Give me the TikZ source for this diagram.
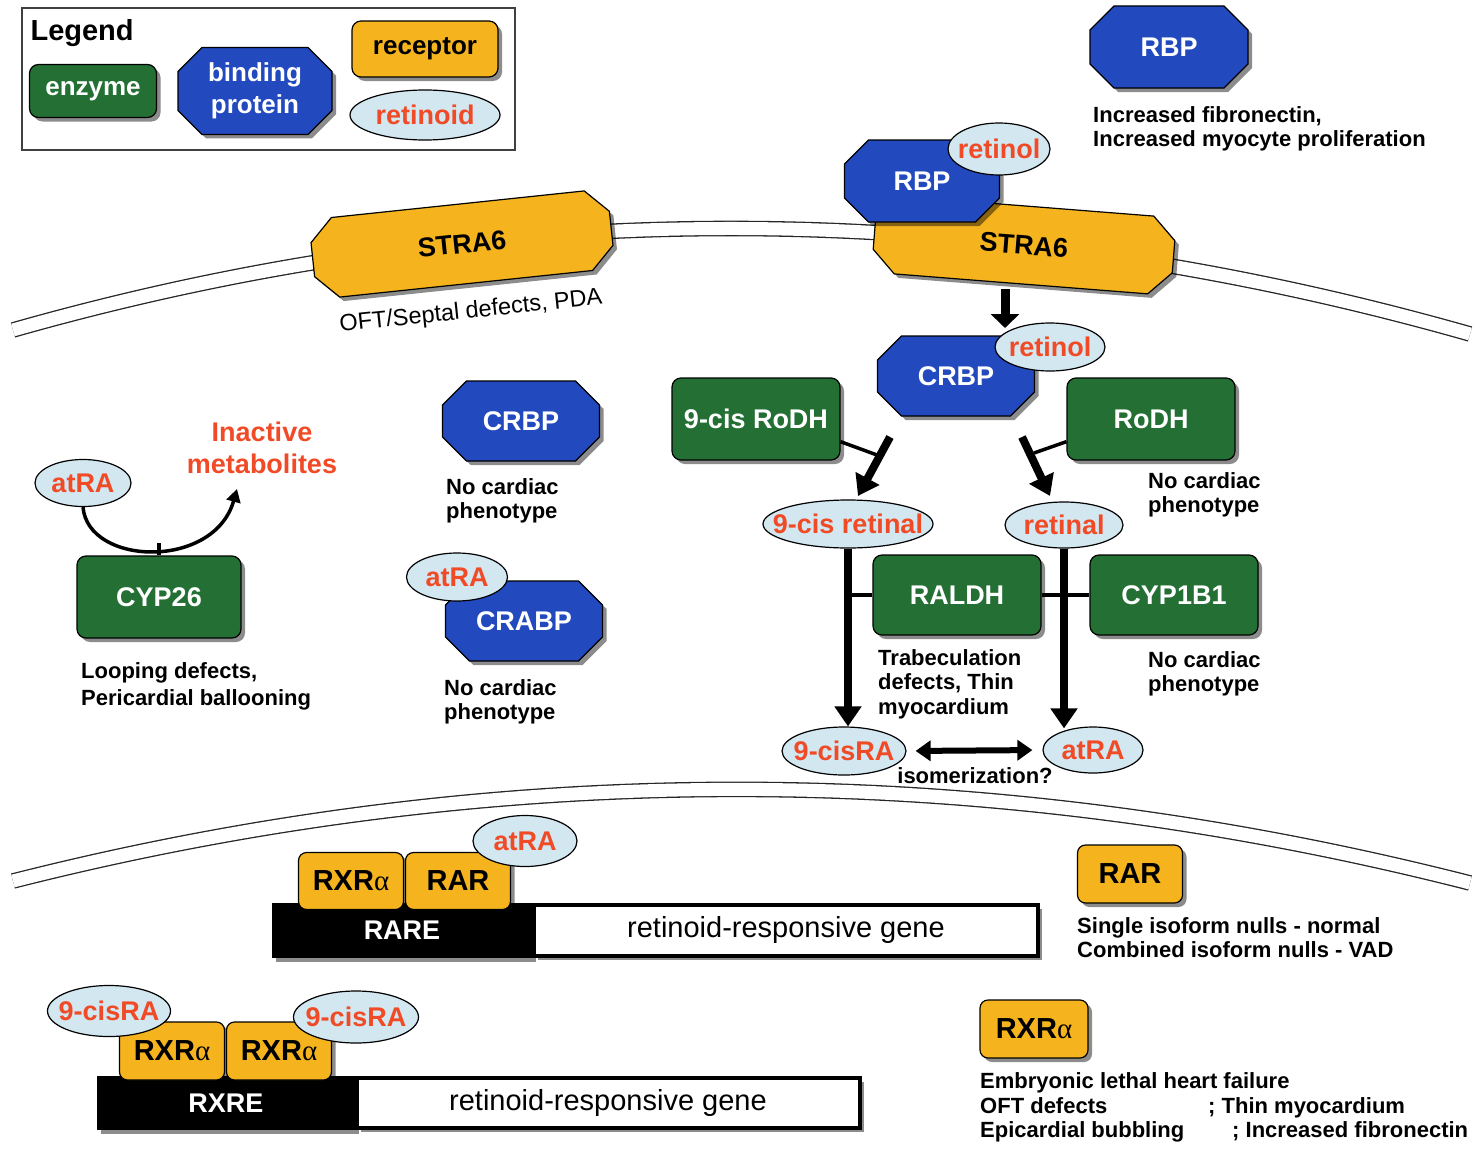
\documentclass[tikz,border=0pt]{standalone}
\usepackage{fontspec}
\setmainfont{Liberation Sans}
\newfontfamily\greekfont{Liberation Serif}
\usetikzlibrary{shapes.misc,shapes.geometric,shadows,arrows.meta,positioning}

\definecolor{enzgreen}{RGB}{36,112,52}
\definecolor{bindblue}{RGB}{34,74,190}
\definecolor{recorange}{RGB}{245,180,30}
\definecolor{retblue}{RGB}{210,231,240}
\definecolor{retred}{RGB}{240,74,38}

\newcommand\lblfont{\fontsize{27}{32}\selectfont\bfseries}
\newcommand\ralpha{{\greekfont\mdseries α}}

\tikzset{
  boxshadow/.style={drop shadow={shadow xshift=4pt,shadow yshift=-4pt,opacity=.45,fill=black}},
  enzyme/.style={rectangle,rounded corners=9pt,draw=black,line width=1.2pt,fill=enzgreen,
    text=white,font=\lblfont,minimum width=166pt,minimum height=80pt,boxshadow},
  binder/.style={chamfered rectangle,chamfered rectangle xsep=12pt,chamfered rectangle ysep=12pt,
    draw=black,line width=1.2pt,fill=bindblue,text=white,font=\lblfont,
    minimum width=157pt,minimum height=80pt,boxshadow},
  receptor/.style={rectangle,rounded corners=8pt,draw=black,line width=1.2pt,fill=recorange,
    text=black,font=\fontsize{29}{34}\selectfont\bfseries,inner sep=0pt,boxshadow},
  channel/.style={chamfered rectangle,chamfered rectangle xsep=13pt,chamfered rectangle ysep=10pt,
    draw=black,line width=1.2pt,fill=recorange,text=black,font=\lblfont,
    minimum width=300pt,minimum height=80pt,boxshadow},
  retinoid/.style={ellipse,draw=black,line width=1.2pt,fill=retblue,text=retred,
    font=\lblfont,inner sep=0pt,
    execute at begin node={\hbox to 0pt\bgroup\hss},execute at end node={\hss\egroup}},
  note/.style={anchor=north west,inner sep=0pt,align=left,
    font=\fontsize{22}{24.5}\selectfont\bfseries},
  genebar/.style={rectangle,fill=black,text=white,font=\lblfont,inner sep=0pt,boxshadow},
  genebody/.style={rectangle,draw=black,line width=4pt,fill=white,
    font=\fontsize{29}{32}\selectfont,inner sep=0pt,boxshadow},
  membrane/.style={draw=black!85,line width=1.3pt,double=white,double distance=13pt},
  bigarrow/.style={line width=8pt,-{Triangle[length=20pt,width=26pt]}},
  catline/.style={line width=3.5pt}
}

\begin{document}
\begin{tikzpicture}[x=1pt,y=-1pt]
  \useasboundingbox (0,0) rectangle (1482,1156);

  % cell membrane and nuclear membrane
  \draw[membrane] (13,330) .. controls (495,193) and (981,195) .. (1470,334);
  \draw[membrane] (13,881) .. controls (498,758) and (984,759) .. (1470,883);

  % legend
  \draw[line width=1.5pt,black!75] (22,8) rectangle (515,150);
  \node[anchor=west,font=\fontsize{29}{34}\selectfont\bfseries] (legend) at (27,33) {Legend};
  \node[enzyme,minimum width=127pt,minimum height=53pt,font=\fontsize{26}{30}\selectfont\bfseries]
    (lenz) at (93,91) {enzyme};
  \node[binder,minimum width=154pt,minimum height=82pt,align=center,
    font=\fontsize{26}{32}\selectfont\bfseries] (lbind) at (255,91) {binding\\protein};
  \node[receptor,rounded corners=9pt,minimum width=146pt,minimum height=56pt,
    font=\fontsize{26}{30}\selectfont\bfseries] (lrec) at (425,49) {receptor};
  \node[retinoid,minimum width=150pt,minimum height=50pt] (lret) at (425,115) {retinoid};

  % serum RBP
  \node[binder,minimum width=158pt,minimum height=82pt] (rbp) at (1169,47) {RBP};
  \node[note] at (1093,106) {Increased fibronectin,\\Increased myocyte proliferation};

  % STRA6 receptors
  \node[channel,rotate=6] (stra6a) at (462,244) {STRA6};
  \node[rotate=6,font=\fontsize{23.5}{27}\selectfont] (stra6note) at (471,312)
    {OFT/Septal defects, PDA};
  \node[channel,rotate=-4.5,minimum height=78pt] (stra6b) at (1024,245) {STRA6};
  \node[binder,minimum width=155pt,minimum height=82pt] (rbpm) at (922,181) {RBP};
  \node[retinoid,minimum width=102pt,minimum height=52pt] (retinola) at (999,149) {retinol};

  % uptake
  \coordinate (uptop) at (1005,289);
  \coordinate (upend) at (1005,328);
  \draw[line width=9pt,-{Triangle[length=14pt,width=28pt]}] (uptop) -- (upend);

  \node[binder] (crbp) at (956,376) {CRBP};
  \node[retinoid,minimum width=110pt,minimum height=48pt] (retinolb) at (1050,347) {retinol};

  % oxidation to retinal
  \node[enzyme,minimum width=168pt,minimum height=82pt] (cisrodh) at (756,419) {9-cis RoDH};
  \node[enzyme,minimum width=168pt,minimum height=82pt] (rodh) at (1151,419) {RoDH};
  \node[note] at (1148,472) {No cardiac\\phenotype};

  \coordinate (ox1a) at (890,437);
  \coordinate (ox1b) at (858,496);
  \coordinate (ox2a) at (1022,437);
  \coordinate (ox2b) at (1050,496);
  \draw[bigarrow] (ox1a) -- (ox1b);
  \draw[bigarrow] (ox2a) -- (ox2b);
  \draw[catline] (cisrodh.-15) -- (877,455);
  \draw[catline] (rodh.195) -- (1034,453);

  \node[retinoid,minimum width=170pt,minimum height=48pt] (cisretinal) at (848,524) {9-cis retinal};
  \node[retinoid,minimum width=118pt,minimum height=46pt] (retinal) at (1064,525) {retinal};

  % oxidation to retinoic acid
  \node[enzyme,minimum width=168pt,minimum height=80pt] (raldh) at (957,595) {RALDH};
  \node[enzyme,minimum width=168pt,minimum height=80pt] (cyp1b1) at (1174,595) {CYP1B1};
  \node[note] at (878,649) {Trabeculation\\defects, Thin\\myocardium};
  \node[note] at (1148,651) {No cardiac\\phenotype};

  \node[retinoid,minimum width=124pt,minimum height=48pt] (cisra) at (844,751) {9-cisRA};
  \node[retinoid,minimum width=100pt,minimum height=46pt] (atra) at (1093,750) {atRA};

  \draw[bigarrow] (cisretinal.south) -- (cisretinal.south |- cisra.north);
  \draw[bigarrow] (retinal.south) -- ([yshift=-2pt]retinal.south |- atra.north);
  \draw[catline] (cisretinal.south |- raldh.west) -- (raldh.west);
  \draw[catline] (raldh.east) -- (cyp1b1.west);

  \draw[line width=6pt,{Triangle[length=15pt,width=20pt]}-{Triangle[length=15pt,width=20pt]},
    shorten <=9pt,shorten >=10pt] (cisra.east) -- (atra.west);
  \node[font=\fontsize{22}{24}\selectfont\bfseries] (isom) at (975,776) {isomerization?};

  % degradation
  \node[retinoid,minimum width=96pt,minimum height=47pt] (atrac) at (83,483) {atRA};
  \node[enzyme,minimum width=164pt,minimum height=82pt] (cyp26) at (159,597) {CYP26};
  \coordinate (inact) at (237,489);
  \draw[line width=3.5pt,-{Triangle[length=13pt,width=14pt]}]
    (atrac.south) .. controls (88,566) and (214,570) .. (inact);
  \draw[line width=3.5pt] (cyp26.north) -- ++(0,-12);
  \node[align=center,text=retred,font=\lblfont] (metab) at (262,448) {Inactive\\metabolites};
  \node[note,font=\fontsize{22}{27}\selectfont\bfseries] at (81,662)
    {Looping defects,\\Pericardial ballooning};

  % cytoplasmic binding proteins
  \node[binder] (crbpc) at (521,421) {CRBP};
  \node[note] at (446,478) {No cardiac\\phenotype};
  \node[binder] (crabp) at (524,621) {CRABP};
  \node[retinoid,minimum width=101pt,minimum height=48pt] (atrab) at (457,577) {atRA};
  \node[note] at (444,679) {No cardiac\\phenotype};

  % nuclear receptors on RARE
  \node[genebar,minimum width=260pt,minimum height=55pt] (rare) at (402,930) {RARE};
  \node[genebody,minimum width=504pt,minimum height=51pt] (genea) at (786,930)
    {retinoid-responsive gene};
  \node[receptor,minimum width=105pt,minimum height=57pt] (rxra) at (351,881) {RXR\ralpha};
  \node[receptor,minimum width=105pt,minimum height=57pt] (rar) at (458,881) {RAR};
  \node[retinoid,minimum width=104pt,minimum height=51pt] (atrad) at (525,841) {atRA};

  % nuclear receptors on RXRE
  \node[genebar,minimum width=258pt,minimum height=54pt] (rxre) at (226,1103) {RXRE};
  \node[genebody,minimum width=503pt,minimum height=50pt] (geneb) at (608,1103)
    {retinoid-responsive gene};
  \node[receptor,minimum width=105pt,minimum height=58pt] (rxrb) at (172,1051) {RXR\ralpha};
  \node[receptor,minimum width=105pt,minimum height=58pt] (rxrc) at (279,1051) {RXR\ralpha};
  \node[retinoid,minimum width=123pt,minimum height=51pt] (cisrab) at (109,1011) {9-cisRA};
  \node[retinoid,minimum width=125pt,minimum height=52pt] (cisrac) at (356,1017) {9-cisRA};

  % receptor phenotypes
  \node[receptor,minimum width=105pt,minimum height=58pt] (rarkey) at (1130,874) {RAR};
  \node[note,font=\fontsize{22}{24}\selectfont\bfseries] at (1077,917)
    {Single isoform nulls - normal\\Combined isoform nulls - VAD};
  \node[receptor,minimum width=108pt,minimum height=58pt] (rxrkey) at (1034,1029) {RXR\ralpha};
  \node[note] at (980,1072) {Embryonic lethal heart failure};
  \node[note] at (980,1097) {OFT defects};
  \node[note] at (1208,1097) {; Thin myocardium};
  \node[note] at (980,1121) {Epicardial bubbling};
  \node[note] at (1232,1121) {; Increased fibronectin};

\end{tikzpicture}
\end{document}
